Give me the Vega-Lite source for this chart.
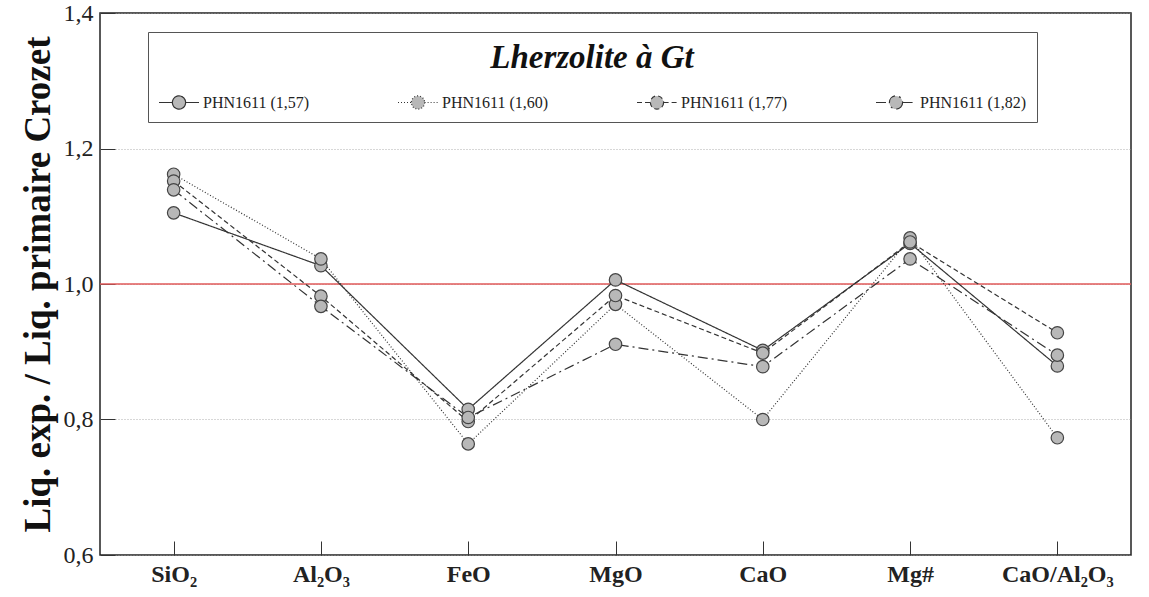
{
  "$schema": "https://vega.github.io/schema/vega-lite/v6.json",
  "autosize": "none",
  "width": 1031,
  "height": 542,
  "padding": {"left": 100, "top": 13, "right": 18, "bottom": 42},
  "background": "white",
  "config": {
    "font": "Liberation Serif",
    "view": {"stroke": "#222", "strokeWidth": 1.5},
    "axis": {"domainColor": "#222", "domainWidth": 1.5, "tickColor": "#333", "labelColor": "#222", "titleColor": "#111"}
  },
  "datasets": {
    "ratios": [
      {"series": "PHN1611 (1,57)", "element": "SiO₂", "value": 1.105},
      {"series": "PHN1611 (1,57)", "element": "Al₂O₃", "value": 1.027},
      {"series": "PHN1611 (1,57)", "element": "FeO", "value": 0.815},
      {"series": "PHN1611 (1,57)", "element": "MgO", "value": 1.006},
      {"series": "PHN1611 (1,57)", "element": "CaO", "value": 0.902},
      {"series": "PHN1611 (1,57)", "element": "Mg#", "value": 1.06},
      {"series": "PHN1611 (1,57)", "element": "CaO/Al₂O₃", "value": 0.879},
      {"series": "PHN1611 (1,60)", "element": "SiO₂", "value": 1.162},
      {"series": "PHN1611 (1,60)", "element": "Al₂O₃", "value": 1.037},
      {"series": "PHN1611 (1,60)", "element": "FeO", "value": 0.764},
      {"series": "PHN1611 (1,60)", "element": "MgO", "value": 0.97},
      {"series": "PHN1611 (1,60)", "element": "CaO", "value": 0.8},
      {"series": "PHN1611 (1,60)", "element": "Mg#", "value": 1.068},
      {"series": "PHN1611 (1,60)", "element": "CaO/Al₂O₃", "value": 0.773},
      {"series": "PHN1611 (1,77)", "element": "SiO₂", "value": 1.152},
      {"series": "PHN1611 (1,77)", "element": "Al₂O₃", "value": 0.982},
      {"series": "PHN1611 (1,77)", "element": "FeO", "value": 0.797},
      {"series": "PHN1611 (1,77)", "element": "MgO", "value": 0.983},
      {"series": "PHN1611 (1,77)", "element": "CaO", "value": 0.898},
      {"series": "PHN1611 (1,77)", "element": "Mg#", "value": 1.062},
      {"series": "PHN1611 (1,77)", "element": "CaO/Al₂O₃", "value": 0.928},
      {"series": "PHN1611 (1,82)", "element": "SiO₂", "value": 1.139},
      {"series": "PHN1611 (1,82)", "element": "Al₂O₃", "value": 0.967},
      {"series": "PHN1611 (1,82)", "element": "FeO", "value": 0.803},
      {"series": "PHN1611 (1,82)", "element": "MgO", "value": 0.911},
      {"series": "PHN1611 (1,82)", "element": "CaO", "value": 0.878},
      {"series": "PHN1611 (1,82)", "element": "Mg#", "value": 1.037},
      {"series": "PHN1611 (1,82)", "element": "CaO/Al₂O₃", "value": 0.895}
    ],
    "reference": [{"ref": 1.0}]
  },
  "layer": [
    {
      "data": {"name": "reference"},
      "mark": {"type": "rule", "color": "#e05a5a", "strokeWidth": 1.5},
      "encoding": {
        "y": {"field": "ref", "type": "quantitative", "scale": {"domain": [0.6, 1.4], "nice": false, "zero": false}}
      }
    },
    {
      "data": {"name": "ratios"},
      "mark": {"type": "line", "color": "#333", "strokeWidth": 1.2},
      "encoding": {
        "x": {
          "field": "element", "type": "nominal", "sort": null,
          "scale": {"type": "point", "padding": 0.5},
          "axis": {"title": null, "labelAngle": 0, "labelFontSize": 24, "labelFontWeight": "bold", "labelPadding": 21, "tickSize": -14, "tickWidth": 1, "grid": false, "domain": false}
        },
        "y": {
          "field": "value", "type": "quantitative",
          "scale": {"domain": [0.6, 1.4], "nice": false, "zero": false},
          "axis": {
            "title": "Liq. exp. / Liq. primaire Crozet",
            "titleFontSize": 37, "titleFontWeight": "bold", "titlePadding": 6,
            "values": [0.6, 0.8, 1.0, 1.2, 1.4],
            "labelExpr": "replace(format(datum.value, '.1f'), '.', ',')",
            "labelFontSize": 24, "labelPadding": 22, "tickSize": -15, "tickWidth": 1,
            "grid": true, "gridDash": [1, 2], "gridColor": "#999", "gridWidth": 0.8, "domain": false
          }
        },
        "detail": {"field": "series"},
        "strokeDash": {
          "field": "series", "type": "nominal",
          "scale": {
            "domain": ["PHN1611 (1,57)", "PHN1611 (1,60)", "PHN1611 (1,77)", "PHN1611 (1,82)"],
            "range": [[1, 0], [1, 2], [5, 3], [10, 4, 2, 4]]
          },
          "legend": {
            "title": "Lherzolite à Gt",
            "orient": "none", "legendX": 48, "legendY": 19,
            "direction": "horizontal", "columns": 4, "columnPadding": 85,
            "titleFontSize": 33, "titleFontWeight": "bold", "titleFontStyle": "italic", "titleAnchor": "middle", "titleColor": "#111", "titlePadding": 6, "titleLimit": 900,
            "labelFontSize": 16, "labelColor": "#222", "labelOffset": 3, "labelLimit": 300,
            "symbolType": "M-1,0L-0.33,0M0.33,0L1,0M0.33,0A0.33,0.33,0,1,1,-0.33,0A0.33,0.33,0,1,1,0.33,0Z",
            "symbolSize": 1600, "symbolStrokeWidth": 1.2, "symbolStrokeColor": "#333", "symbolFillColor": "#b8b8b8",
            "strokeColor": "#555", "fillColor": "white", "padding": 10,
            "encode": {"symbols": {"update": {"fill": {"value": "#b8b8b8"}, "stroke": {"value": "#333"}}}}
          }
        }
      }
    },
    {
      "data": {"name": "ratios"},
      "mark": {"type": "point", "shape": "circle", "filled": true, "size": 155, "fill": "#b8b8b8", "stroke": "#444", "strokeWidth": 1.2, "opacity": 1},
      "encoding": {
        "x": {"field": "element", "type": "nominal", "sort": null},
        "y": {"field": "value", "type": "quantitative"}
      }
    }
  ]
}
